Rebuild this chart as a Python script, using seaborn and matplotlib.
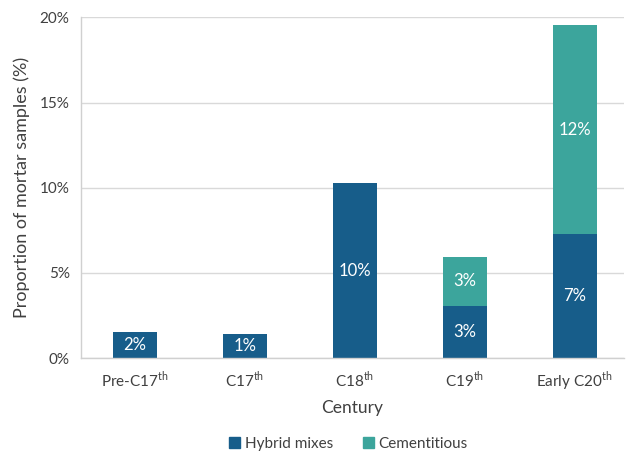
import numpy as np
import pandas as pd
import matplotlib
matplotlib.use("Agg")
import matplotlib.pyplot as plt
from matplotlib.patches import Patch
import seaborn as sns

# ----------------------------------------------
# Data (percent of mortar samples)
# ----------------------------------------------
centuries    = ["Pre-C17", "C17", "C18", "C19", "Early C20"]
tick_labels  = ["Pre-C17$^{\\mathrm{th}}$", "C17$^{\\mathrm{th}}$", "C18$^{\\mathrm{th}}$",
                "C19$^{\\mathrm{th}}$", "Early C20$^{\\mathrm{th}}$"]
hybrid       = [1.54, 1.43, 10.26, 3.07, 7.29]
cementitious = [0.0, 0.0, 0.0, 2.87, 12.26]

BLUE = "#175d8a"
TEAL = "#3ca59c"
GREY = "#404040"

sns.set_style("white")
plt.rcParams.update({
    "font.family"      : ["Lato", "DejaVu Sans"],
    "mathtext.fontset" : "custom",
    "mathtext.rm"      : "Lato",
    "text.color"       : GREY,
})

df = pd.DataFrame({"century": centuries, "hybrid": hybrid, "cementitious": cementitious})
df["total"] = df["hybrid"] + df["cementitious"]

fig = plt.figure(figsize=(6.26, 4.58), dpi=100)
ax = fig.add_axes([0.129, 0.218, 0.868, 0.744])

# stacked: draw total first, then the hybrid part over it
sns.barplot(data=df, x="century", y="total", color=TEAL, saturation=1, width=0.4,
            linewidth=0, ax=ax)
sns.barplot(data=df, x="century", y="hybrid", color=BLUE, saturation=1, width=0.4,
            linewidth=0, ax=ax)

for i, row in df.iterrows():
    if row["hybrid"] > 0:
        ax.text(i, row["hybrid"] / 2, f"{row['hybrid']:.0f}%", ha="center", va="center",
                color="white", fontsize=12)
    if row["cementitious"] > 0:
        ax.text(i, row["hybrid"] + row["cementitious"] / 2, f"{row['cementitious']:.0f}%",
                ha="center", va="center", color="white", fontsize=12)

ax.set_ylim(0, 20)
ax.set_xlim(-0.49, 4.45)
ax.set_yticks([0, 5, 10, 15, 20])
ax.set_yticklabels([f"{t}%" for t in [0, 5, 10, 15, 20]], fontsize=11, color=GREY)
ax.set_xticks(range(len(centuries)))
ax.set_xticklabels(tick_labels, fontsize=11, color=GREY)
ax.tick_params(axis="both", length=0, pad=8)
ax.set_axisbelow(True)
ax.grid(True, axis="y", color="#d9d9d9", lw=1)
for s in ["top", "right"]:
    ax.spines[s].set_visible(False)
for s in ["left", "bottom"]:
    ax.spines[s].set_color("#d0d0d0")
    ax.spines[s].set_linewidth(1)

ax.set_xlabel("Century", fontsize=12.5, color=GREY, labelpad=5)
ax.set_ylabel("Proportion of mortar samples (%)", fontsize=13, color=GREY, labelpad=7)

handles = [Patch(color=BLUE, label="Hybrid mixes"), Patch(color=TEAL, label="Cementitious")]
fig.legend(handles=handles, loc="lower center", bbox_to_anchor=(0.557, -0.015), ncol=2,
           frameon=False, fontsize=11, handlelength=0.7, handleheight=0.7,
           handletextpad=0.3, columnspacing=2.0)

fig.savefig("out.png", dpi=100)
